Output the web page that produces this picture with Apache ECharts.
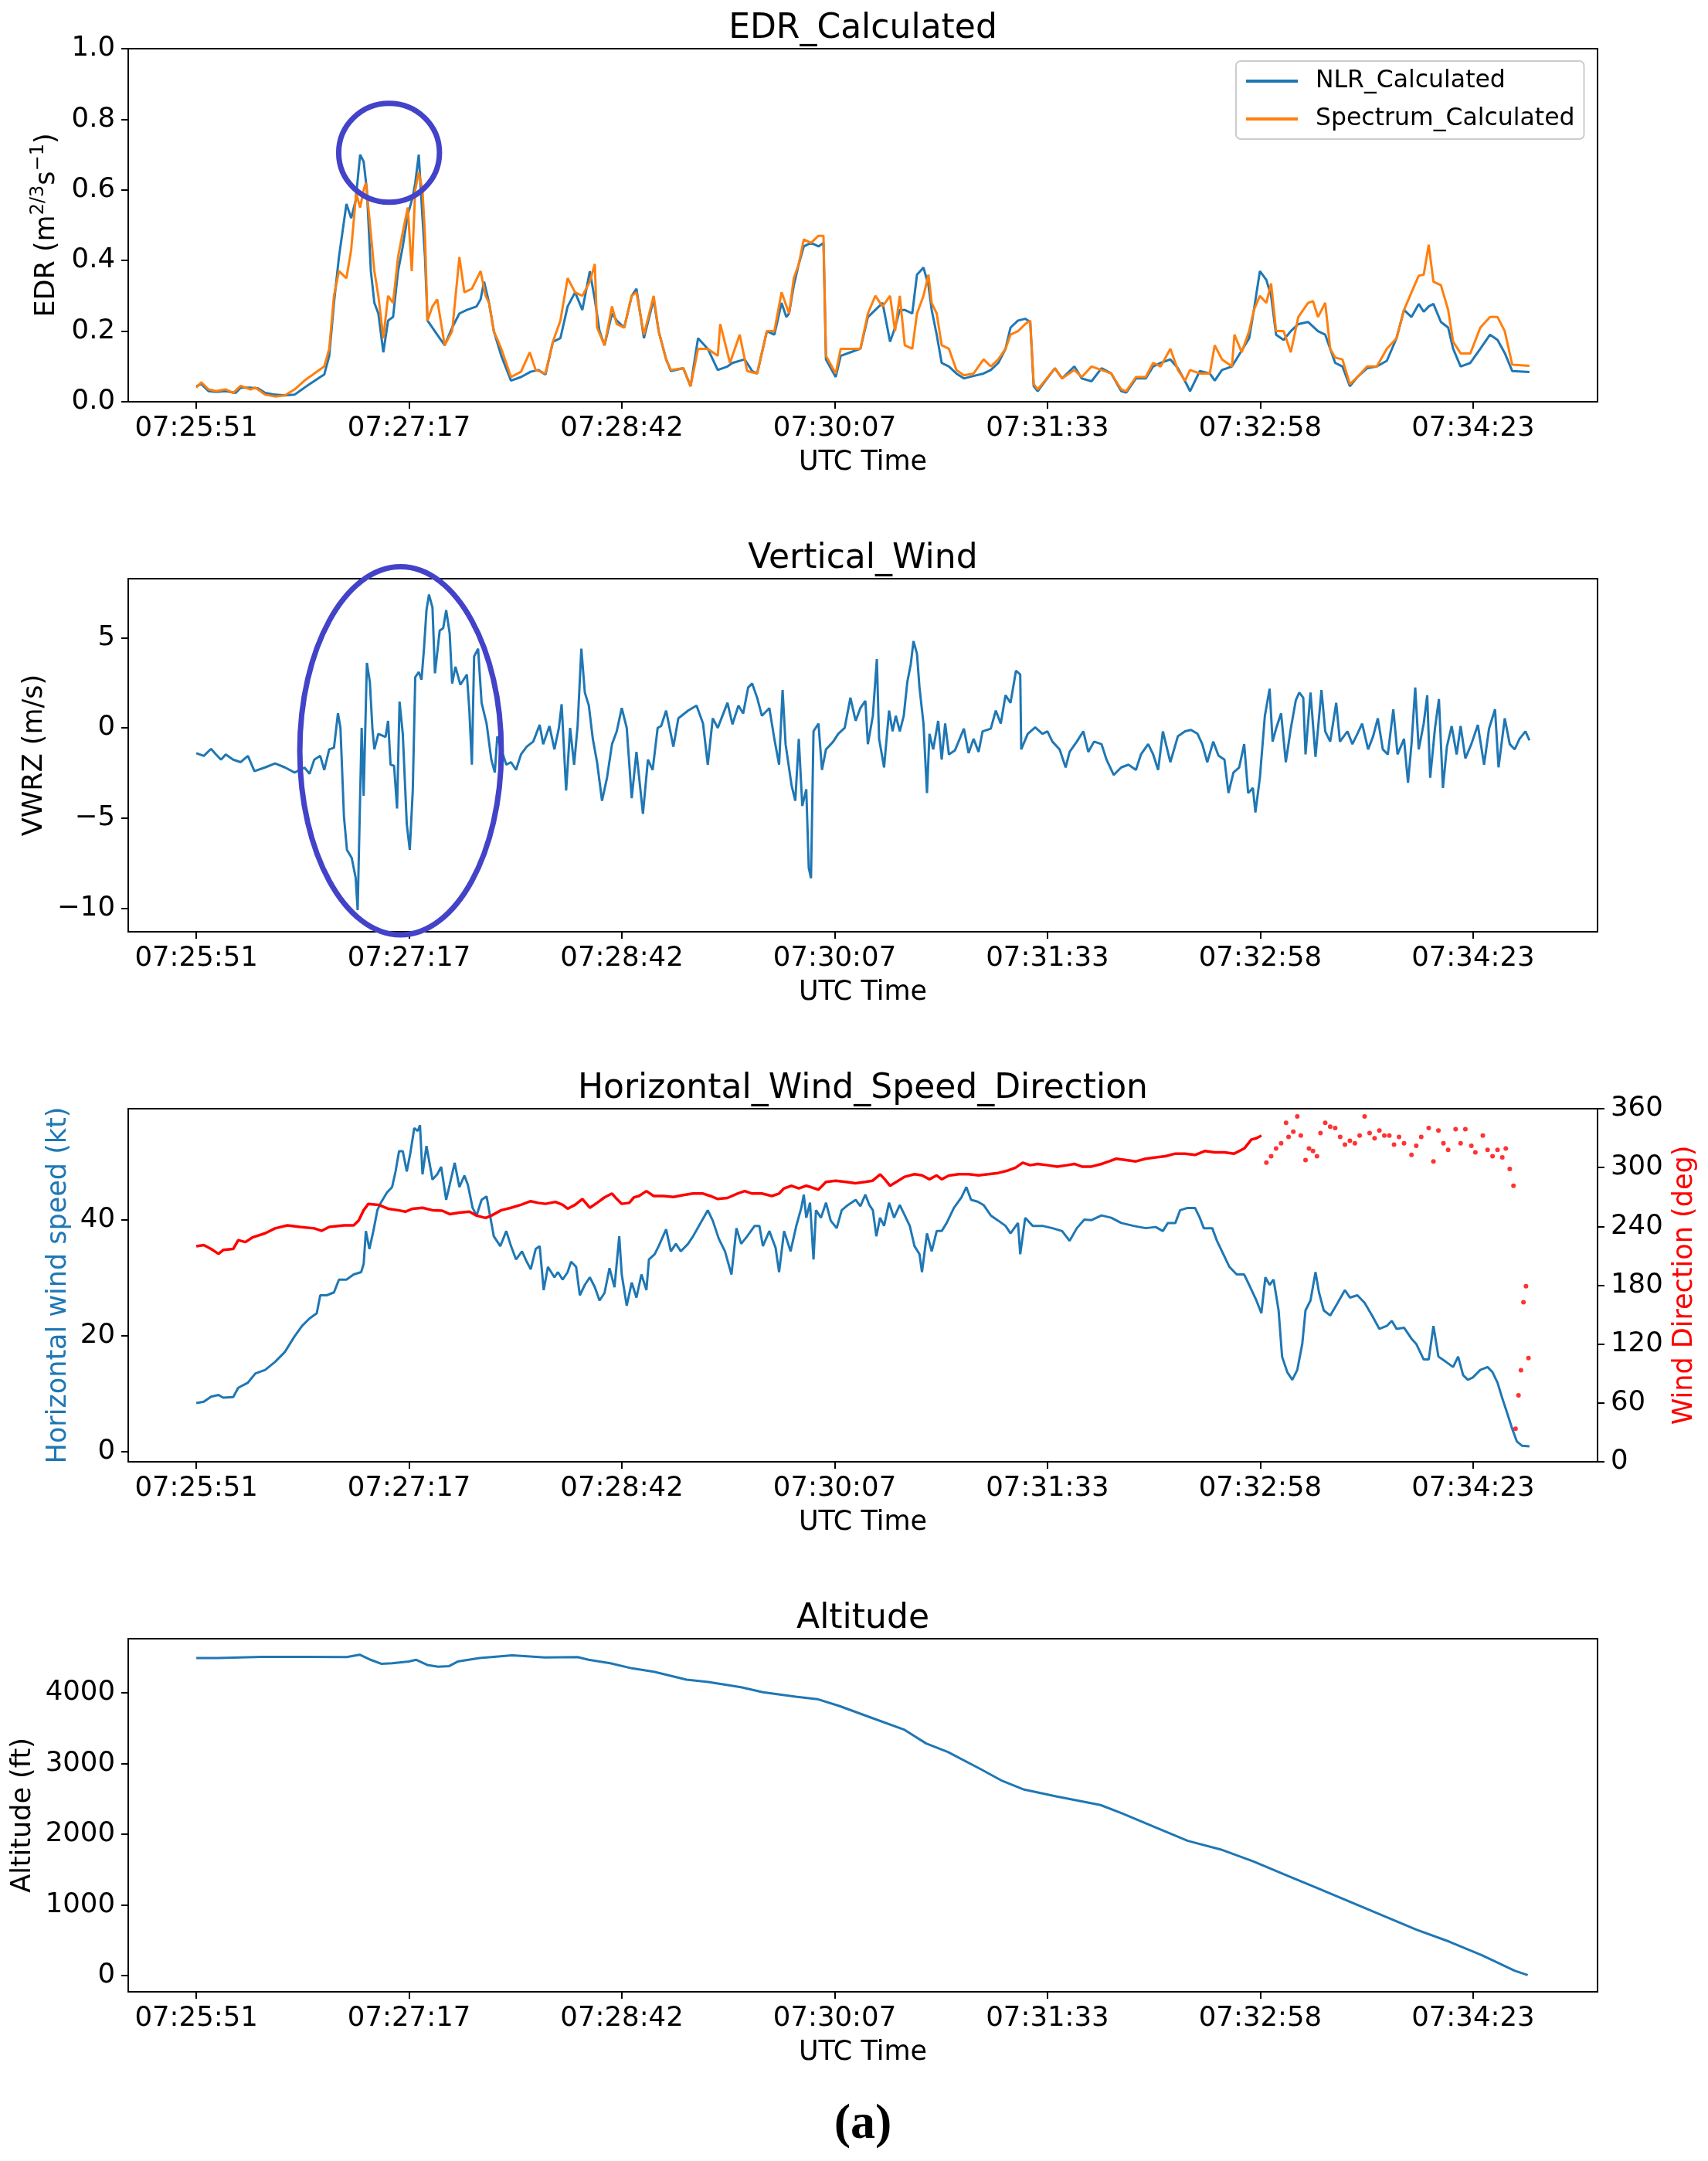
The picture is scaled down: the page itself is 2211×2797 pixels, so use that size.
<!DOCTYPE html>
<html>
<head>
<meta charset="utf-8">
<script src="https://cdn.jsdelivr.net/npm/echarts@6/dist/echarts.min.js"></script>
<style>
  html, body { margin: 0; padding: 0; background: #fff; }
  #main { width: 2211px; height: 2797px; }
</style>
</head>
<body>
<div id="main"></div>
<script>
// time axis: seconds after 07:25:51
var tickSeconds = [0, 85.33, 170.67, 256, 341.33, 426.67, 512];
var tickLabels = ['07:25:51', '07:27:17', '07:28:42', '07:30:07', '07:31:33', '07:32:58', '07:34:23'];

// EDR (m^2/3 s^-1), [seconds, value]
var nlrEdr = [
  [0,0.044],[2,0.05],[4.9,0.03],[7.9,0.028],[11.8,0.03],[15.8,0.025],[17.8,0.04],[21.7,0.04],[24.7,0.038],[27.6,0.025],
  [31.6,0.02],[35.5,0.018],[39.4,0.02],[41.4,0.03],[45.4,0.05],[49.7,0.07],[51.3,0.077],[53.3,0.13],[55.2,0.28],[57.2,0.41],
  [60.2,0.56],[62.1,0.52],[63.9,0.57],[65.7,0.70],[67.1,0.68],[68.4,0.6],[70,0.37],[71.4,0.28],[73,0.25],[75,0.14],
  [76.9,0.23],[78.9,0.24],[80.9,0.37],[82.8,0.44],[84.8,0.53],[86.8,0.58],[87.8,0.62],[89.2,0.70],[90.7,0.52],[91.7,0.41],
  [92.7,0.23],[96.6,0.19],[99.6,0.16],[102.6,0.21],[105.5,0.25],[108.5,0.26],[112.4,0.27],[114,0.29],[115.4,0.34],[117.4,0.28],
  [119.3,0.2],[122.3,0.13],[126.2,0.06],[130.2,0.07],[134.1,0.085],[137.1,0.09],[140,0.077],[143,0.17],[146,0.18],[148.9,0.27],
  [151.9,0.31],[154.8,0.26],[157.8,0.37],[159.8,0.29],[161.7,0.2],[163.7,0.16],[166.7,0.25],[168.6,0.23],[171.6,0.21],[174.6,0.30],
  [176.5,0.32],[179.5,0.18],[183.4,0.29],[185.4,0.2],[188.4,0.12],[190.3,0.087],[195.3,0.095],[198.2,0.044],[201.2,0.18],[205.1,0.15],
  [209.1,0.09],[213,0.1],[215,0.11],[219.9,0.12],[222.9,0.087],[224.9,0.08],[228.8,0.2],[231.8,0.19],[234.7,0.28],[236.6,0.24],
  [237.7,0.25],[239.6,0.33],[241.6,0.39],[243.6,0.44],[246.5,0.45],[249.5,0.44],[251.5,0.45],[252.5,0.12],[256.4,0.07],[258.4,0.13],
  [262.3,0.14],[266.3,0.15],[269.3,0.24],[272.3,0.26],[275.2,0.28],[278.2,0.17],[280.2,0.21],[282.1,0.26],[284.1,0.26],[287.1,0.25],
  [289,0.36],[291.6,0.38],[293.6,0.33],[294.9,0.26],[296.9,0.19],[298.9,0.11],[301.8,0.1],[304.8,0.08],[307.8,0.066],[311.7,0.073],
  [315.7,0.08],[318.6,0.09],[321.6,0.11],[324.5,0.15],[326.5,0.21],[329.5,0.23],[332.4,0.235],[334.4,0.226],[335.8,0.044],[337.4,0.03],
  [340.3,0.058],[344.3,0.095],[347.2,0.066],[352.1,0.1],[355.1,0.066],[359,0.058],[363,0.095],[366.9,0.08],[370.9,0.03],[372.9,0.026],
  [376.8,0.066],[380.7,0.066],[383.7,0.1],[386.7,0.11],[390.6,0.12],[393.6,0.095],[396.5,0.058],[398.5,0.03],[402.4,0.087],[406.4,0.08],
  [408.4,0.06],[411.3,0.09],[415.3,0.1],[419.2,0.145],[422.2,0.18],[424.1,0.26],[426.5,0.37],[429.1,0.345],[431,0.3],[433,0.19],
  [436,0.175],[438.9,0.2],[441.9,0.22],[445.8,0.226],[449.8,0.2],[452.7,0.19],[454.7,0.15],[456.7,0.11],[459.6,0.1],[462.6,0.044],
  [465.6,0.07],[469.5,0.095],[473.4,0.1],[477.4,0.116],[481.3,0.18],[484.3,0.26],[487.3,0.24],[490.2,0.277],[492.2,0.255],[494.2,0.27],
  [496.1,0.277],[499.1,0.226],[502,0.21],[504,0.15],[507,0.1],[510.9,0.11],[514.9,0.15],[518.8,0.19],[521.8,0.175],[524.7,0.138],
  [527.7,0.087],[534.6,0.084]
];
var spectrumEdr = [
  [0,0.04],[2,0.055],[4.9,0.035],[7.9,0.03],[11.8,0.035],[14.8,0.025],[17.8,0.045],[21.7,0.035],[23.7,0.04],[27.6,0.02],
  [31.6,0.015],[35.5,0.018],[39.4,0.035],[43.4,0.06],[47.3,0.08],[51.3,0.1],[53.3,0.15],[55.2,0.3],[57.2,0.37],[60.2,0.35],
  [62.1,0.43],[64.1,0.59],[65.7,0.55],[67.1,0.6],[68,0.62],[69.4,0.52],[71.4,0.37],[73,0.3],[75,0.18],[76.9,0.3],
  [78.9,0.28],[80.9,0.41],[82.8,0.48],[84.8,0.55],[86.4,0.37],[87.8,0.6],[89.2,0.65],[90.7,0.6],[91.7,0.47],[92.7,0.23],
  [94.7,0.27],[96.6,0.29],[99.6,0.16],[102.6,0.2],[105.5,0.41],[107.5,0.31],[110.5,0.32],[114,0.37],[116,0.3],[117.4,0.28],
  [119.3,0.2],[122.3,0.15],[126.2,0.07],[130.2,0.085],[133.7,0.14],[136.1,0.09],[140,0.08],[143,0.17],[146,0.23],[148.9,0.35],
  [151.9,0.31],[154.8,0.3],[157.8,0.34],[159.8,0.39],[160.7,0.21],[163.7,0.16],[166.7,0.27],[168.6,0.22],[171.6,0.21],[174.6,0.3],
  [176.5,0.31],[179.5,0.19],[183.4,0.3],[185.4,0.2],[188.4,0.12],[190.3,0.09],[195.3,0.095],[198.2,0.044],[201.2,0.15],[205.1,0.15],
  [209.1,0.13],[210.1,0.22],[214,0.11],[217.9,0.19],[220.9,0.087],[224.9,0.08],[228.8,0.2],[231.8,0.2],[234.7,0.31],[237.7,0.25],
  [239.6,0.35],[241.6,0.39],[243.6,0.46],[246.5,0.45],[249.5,0.47],[251.5,0.47],[252.5,0.13],[256.4,0.08],[258.4,0.15],[262.3,0.15],
  [266.3,0.15],[269.3,0.25],[272.3,0.30],[275.2,0.27],[278.2,0.30],[280.2,0.2],[282.1,0.3],[284.1,0.16],[287.1,0.15],[289,0.25],
  [291.6,0.30],[293.6,0.36],[294.9,0.28],[296.9,0.25],[298.9,0.16],[301.8,0.15],[304.8,0.09],[307.8,0.075],[311.7,0.08],[315.7,0.12],
  [318.6,0.1],[321.6,0.12],[324.5,0.15],[326.5,0.19],[329.5,0.2],[332.4,0.22],[334.4,0.23],[335.8,0.05],[337.4,0.035],[340.3,0.06],
  [344.3,0.095],[347.2,0.066],[352.1,0.09],[355.1,0.07],[359,0.1],[363,0.09],[366.9,0.08],[370.9,0.035],[372.9,0.03],[376.8,0.07],
  [380.7,0.07],[383.7,0.11],[386.7,0.1],[390.6,0.15],[393.6,0.09],[396.5,0.06],[398.5,0.09],[402.4,0.08],[406.4,0.08],[408.4,0.16],
  [411.3,0.12],[415.3,0.1],[416.3,0.19],[419.2,0.14],[422.2,0.2],[424.1,0.26],[426.5,0.30],[429.1,0.28],[431,0.335],[433,0.2],
  [436,0.2],[438.9,0.14],[441.9,0.24],[445.8,0.28],[447.8,0.285],[449.8,0.24],[452.7,0.28],[454.7,0.15],[456.7,0.125],[459.6,0.12],
  [462.6,0.05],[465.6,0.07],[469.5,0.1],[473.4,0.1],[477.4,0.15],[481.3,0.18],[484.3,0.26],[487.3,0.31],[490.2,0.357],[492.2,0.36],
  [494.2,0.445],[496.1,0.34],[499.1,0.33],[502,0.26],[504,0.17],[507,0.137],[510.9,0.137],[514.9,0.21],[518.8,0.24],[521.8,0.24],
  [524.7,0.2],[527.7,0.105],[534.6,0.102]
];

// vertical wind VWRZ (m/s)
var verticalWind = [
  [0,-1.4],[3,-1.55],[5.9,-1.16],[7.9,-1.47],[9.9,-1.76],[11.8,-1.47],[14.8,-1.76],[17.8,-1.9],[20.7,-1.55],[23.3,-2.4],
  [27.6,-2.19],[31.6,-1.97],[35.5,-2.19],[39.4,-2.47],[43.4,-2.2],[45.4,-2.54],[47.3,-1.76],[49.7,-1.55],[51.3,-2.33],[53.3,-1.19],
  [55.2,-1.1],[56.8,0.81],[57.8,0],[59.2,-4.9],[60.4,-6.76],[62.3,-7.2],[63.9,-8.3],[64.7,-10.1],[65.5,-5.04],[66.3,0],
  [67.1,-3.76],[68.4,3.6],[69.6,2.53],[70.6,0],[71.4,-1.19],[73,-0.33],[75.9,-0.5],[76.9,0.39],[77.9,-2.04],[79.3,-2.1],
  [80.5,-4.47],[81.5,1.46],[82.8,-0.33],[84.4,-5.33],[85.6,-6.76],[86.8,-3.47],[87.8,2.81],[89.2,3.1],[90.3,2.67],[91.3,4.39],
  [92.3,6.53],[93.3,7.39],[94.7,6.67],[95.7,3.03],[97.6,5.39],[99,5.53],[100.2,6.53],[101.6,5.24],[102.6,2.46],[103.9,3.39],
  [105.9,2.39],[108.5,2.96],[109.5,0.96],[110.5,-2.04],[111.4,3.96],[113,4.39],[114.4,1.39],[116.4,0.24],[118.3,-1.76],[119.7,-2.47],
  [120.7,-0.47],[122.3,-1.19],[124.3,-2.04],[126.2,-1.9],[128.2,-2.33],[130.2,-1.47],[132.5,-1.04],[135.1,-0.76],[137.7,0.17],[139.1,-0.9],
  [141.6,0.1],[143.6,-1.19],[145.4,0],[146.5,1.31],[148.3,-3.47],[149.9,0],[151.5,-2.04],[152.9,0.1],[154.4,4.39],[155.8,1.96],
  [157.4,1.24],[159,-0.61],[160.7,-1.9],[162.7,-4.04],[164.7,-2.76],[166.7,-0.9],[168.6,-0.19],[170.6,1.1],[172.6,0],[174.6,-3.9],
  [176.5,-1.33],[179.1,-4.76],[181.1,-1.76],[183,-2.33],[185,0],[186.4,0.1],[188.4,0.96],[191.3,-1.04],[193.3,0.53],[197.2,0.96],
  [200.6,1.24],[203.2,0.24],[205.1,-2.04],[207.1,0.53],[209.1,0],[213,1.39],[215,0.2],[217.4,1.24],[219.3,0.8],[221.3,2.24],
  [222.9,2.46],[224.9,1.67],[226.8,0.67],[229.8,1.1],[231.8,-0.61],[233.7,-2.04],[235.1,2.1],[236.3,-0.9],[238.7,-3.19],[240.2,-4.04],
  [241.6,-0.61],[243,-4.33],[244.6,-3.4],[245.6,-7.76],[246.5,-8.33],[247.5,-0.19],[249.5,0.24],[250.9,-2.33],[252.5,-1.19],[255.4,-0.76],
  [257.4,-0.33],[260,0],[262.3,1.67],[264.4,0.39],[266.3,1.1],[268.3,1.5],[269.3,-0.9],[271.3,0.67],[272.9,3.81],[273.8,-0.61],
  [275.8,-2.19],[277.8,0.96],[279.2,-0.19],[280.5,0.67],[282.1,-0.19],[283.7,0.67],[285.1,2.53],[286.5,3.53],[287.6,4.81],[289,4.1],
  [290,2.24],[291.6,0.24],[293,-3.61],[294,-0.33],[295.5,-1.19],[297.5,0.39],[298.9,-1.76],[300.3,0.24],[301.8,-1.47],[304.2,-1.25],
  [307.8,-0.04],[309.7,-1.4],[311.7,-0.61],[313.7,-1.33],[315.3,-0.19],[318.6,-0.04],[320.6,0.96],[322.6,0.24],[324.5,1.81],[326.5,1.39],
  [328.7,3.17],[330.4,2.96],[330.8,-1.19],[333.4,-0.33],[336.4,0.03],[339.3,-0.33],[341.3,-0.19],[343.3,-0.76],[346.2,-1.19],[348.6,-2.19],
  [350.2,-1.33],[353.1,-0.76],[355.7,-0.19],[357.7,-1.33],[360,-0.76],[363,-0.9],[365,-1.76],[367.9,-2.61],[370.9,-2.19],[373.8,-2.04],
  [376.8,-2.33],[378.8,-1.47],[381.7,-0.9],[383.7,-1.47],[385.7,-2.33],[387.6,-0.19],[390.6,-1.9],[393.6,-0.47],[396.5,-0.19],[398.9,-0.11],
  [401.5,-0.33],[403.4,-0.9],[405.4,-1.9],[407.8,-0.76],[409.9,-1.54],[412.3,-1.76],[413.9,-3.61],[415.9,-2.47],[418.2,-2.19],[420.2,-0.9],
  [421.8,-3.61],[423.7,-3.33],[424.7,-4.69],[426.5,-2.76],[428.5,0.67],[430.4,2.17],[431.6,-0.76],[433,-0.04],[435,0.81],[436.9,-1.9],
  [438.9,-0.04],[440.9,1.53],[442.3,1.96],[443.9,1.67],[444.8,-1.47],[446.8,1.96],[448.8,-1.61],[451.2,2.1],[452.7,-0.19],[454.7,-0.76],
  [457.1,1.39],[458.6,-0.76],[461.6,-0.19],[463.6,-0.9],[465.6,-0.33],[467.5,0.24],[469.9,-1.19],[471.9,-0.47],[473.8,0.53],[475.8,-1.19],
  [477.8,-1.47],[480,1.03],[481.7,-1.47],[484.3,-0.61],[485.9,-3.04],[487.3,-0.9],[488.8,2.24],[490.2,-1.19],[492.2,0.24],[493.6,1.81],
  [494.8,-2.76],[496.7,-0.04],[498.3,1.6],[499.9,-3.33],[501.5,-1.04],[503.4,0.1],[505.4,-1.47],[507,0.1],[508.9,-1.69],[511.3,-0.9],
  [513.9,0.17],[516.4,-2.04],[518.4,-0.04],[520.8,1.03],[522.2,-2.19],[524.7,0.53],[526.7,-0.9],[528.7,-1.19],[530.6,-0.61],[533,-0.19],
  [534.6,-0.69]
];

// horizontal wind speed (kt)
var windSpeed = [
  [0,8.36],[3,8.6],[5.9,9.47],[8.9,9.78],[10.8,9.3],[14.8,9.4],[16.8,11],[20.7,11.9],[23.7,13.5],[27.6,14.1],
  [31.6,15.5],[35.5,17.2],[39.4,19.9],[42.4,21.7],[45.4,23],[48.3,23.9],[49.7,27],[52.3,27],[55.2,27.5],[57.2,29.7],
  [60.2,29.7],[63.1,30.6],[66.1,31],[67.1,32.4],[68,38.1],[69.4,35],[71,38.1],[72.6,41.7],[74,43],[76.5,44.8],
  [78.5,45.7],[79.9,48.4],[81.3,51.9],[82.8,51.9],[84.4,48.4],[85.8,51.5],[87.4,55.9],[88.8,55.4],[89.7,56.4],[90.7,47.9],
  [92.3,52.8],[94.7,47],[96.6,47.9],[98.2,49.2],[100.2,43.5],[101.6,46.1],[103.6,49.9],[105.5,45.7],[107.5,47.7],[108.9,46.1],
  [110.8,42.1],[112.4,40.8],[114.4,43.5],[116.4,44.1],[117.4,41.7],[119.3,37.2],[121.9,35.5],[124.3,38.1],[126.2,35.5],[128.2,33.2],
  [130.6,34.6],[132.5,32.8],[134.1,31.5],[136.1,35],[137.7,35.5],[139.3,27.9],[141,31.9],[143.6,30.1],[145,31],[146.9,29.7],
  [148.9,31],[150.3,32.8],[152.3,31.9],[153.8,27],[155.8,28.8],[157.8,30.1],[159.8,28.4],[161.7,26.1],[163.7,27.4],[165.7,31.7],
  [167.7,28.4],[169.6,37.2],[170.6,30.6],[172.6,25.2],[174.6,29.2],[176.5,26.6],[178.5,30.6],[180.5,27.9],[181.5,33.2],[183.8,34.1],
  [185.4,35.5],[188.4,38.4],[190.3,34.6],[192.3,35.9],[194.3,34.6],[197.2,35.9],[199.2,37.2],[202.2,39.5],[205.1,41.7],[207.1,39.9],
  [209.5,36.8],[212,34.6],[214.6,30.6],[216.6,38.6],[218.5,35.9],[220.9,37.2],[223.9,39],[225.8,39],[227.2,35.5],[229.8,38.1],
  [232.3,35.2],[233.7,31],[235.7,38.1],[238.3,34.6],[240.6,39],[242.6,42.1],[243.6,44.4],[244.6,40.4],[246.1,43],[247.5,33.2],
  [248.5,41.7],[250.5,40.4],[252.5,43],[254.4,39.9],[256.8,38.6],[258.8,41.7],[261.3,42.6],[264.4,43.5],[266.3,42.4],[268.3,44.4],
  [269.9,42.6],[271.3,41.7],[272.7,37.2],[274.2,40.4],[275.8,39],[277.8,43],[279.8,40.4],[282.1,42.6],[284.1,40.8],[286.1,39],
  [288,35.5],[290,34.1],[291,31],[293,37.7],[294.9,34.6],[296.9,38.1],[298.9,38.1],[300.9,39.5],[303.8,42.1],[306.8,43.9],
  [308.8,45.7],[310.7,43.5],[313.3,43.2],[315.7,42.6],[318.6,40.8],[321.6,39.9],[324.5,39],[326.5,37.7],[329.5,39.5],[330.4,34.1],
  [332.4,40.4],[335.4,39],[339.3,39],[343.3,38.6],[347.2,38.1],[350.2,36.4],[353.1,38.6],[356.1,40.1],[359,40],[363,40.8],
  [366.9,40.4],[370.9,39.5],[375.8,39],[380.7,38.6],[384.7,38.8],[387.6,38.1],[389.6,39.5],[392.6,39.5],[394.5,41.7],[397.5,42.1],
  [400.5,42.1],[402.4,40.4],[404,38.6],[407.4,38.6],[409.3,36.4],[411.3,34.6],[414.3,31.9],[417.2,30.6],[420.2,30.6],[422.2,28.8],
  [425.1,26.1],[427.1,23.9],[428.7,30.1],[430.4,28.8],[432,29.7],[434,24.4],[435.4,16.4],[437.5,13.7],[439.5,12.4],[441.5,14.1],
  [443.5,18.6],[444.8,24.4],[446.8,26.1],[448.8,31],[450.2,27.5],[452.1,24.4],[454.7,23.5],[457.7,25.7],[460.6,27.9],[462.6,26.6],
  [465.6,27],[468.5,25.7],[471.5,23.5],[474.4,21.2],[477.4,21.7],[479.4,22.6],[481.3,21.2],[484.3,21.4],[487.3,19.5],[489.2,18.6],
  [492.2,15.9],[494.2,15.9],[496.1,21.7],[498.1,16.4],[501.1,15.5],[504,14.6],[506,16.4],[508,13.2],[509.9,12.4],[511.9,12.8],
  [514.9,14.1],[517.8,14.6],[519.8,13.7],[521.8,11.9],[523.7,9.2],[525.7,6.6],[527.7,3.9],[529.6,1.7],[531.6,1],[534.6,0.9]
];

// wind direction (deg): continuous part, then scattered samples
var windDirTrack = [
  [0,219.8],[3,221],[5.9,217],[8.9,212],[10.8,216],[14.8,217],[16.8,226],[19.7,224],[22.7,229],[27.6,233],
  [31.6,238],[36.5,241],[41.4,239.5],[47.3,238],[50.3,235.5],[53.3,239.5],[59.2,241],[63.1,241],[65.1,246],[67.1,256.5],
  [69,263],[73,262],[76.9,258],[80.9,256.5],[83.8,255],[86.8,258],[90.7,259],[94.7,256.5],[98.6,256],[101.6,252.5],
  [105.5,254],[109.5,255],[112.4,251],[116,248.6],[118.3,251],[122.3,256.5],[126.2,259],[130.2,262],[134.1,265.7],[137.1,264],
  [140,263],[144,265],[146.9,262],[148.9,258],[151.9,262],[154.8,268],[157.8,259],[160.7,264],[163.7,269.6],[166.7,273.5],
  [168.6,268],[170.6,263],[173.6,264],[175.5,269.6],[177.5,271],[180.5,276],[183.4,271],[187.4,271],[191.3,270],[195.3,272],
  [199.2,273.5],[203.2,273.5],[206.1,271],[209.1,268],[213,269],[217,273.5],[219.9,276],[222.9,273.5],[226.8,273.5],[230.8,271],
  [233.7,273.5],[235.7,278.8],[238.7,281.4],[241.6,278.8],[244.6,281.4],[246.5,280],[249.5,277.5],[252.5,285.3],[256.4,286.6],[260.4,285.3],
  [264.3,284],[268.2,285.3],[271.2,286.6],[274.2,293],[276.1,288],[278.2,281.4],[281.1,286],[284.1,290.6],[288,293.2],[291,292],
  [294,288],[296.9,292],[298.9,288],[301.8,291.9],[305.8,293.2],[309.7,293.2],[313.7,292],[317.6,293.2],[321.6,294.5],[325.5,297],
  [328.5,299.8],[331.4,305],[334.4,302.4],[337.4,303.7],[341.3,302.4],[345.2,301],[349.2,302.4],[352.1,303.7],[355.1,301],[359,301],
  [363,303.7],[366,306.3],[368.9,309],[372.9,307.6],[376.8,306.3],[380.7,309],[384.7,310.3],[388.6,311.6],[392.6,314.2],[396.5,314.2],
  [400.5,312.9],[404.4,316.8],[408.4,315.5],[412.3,315.5],[416.2,314.2],[420.2,319.4],[423.1,328.6],[425.1,329.9],[427.1,332.6]
];
var windDirScatter = [
  [429.1,305],[431,311.6],[433,319.4],[435,324.7],[437,345.7],[438,331.2],[439.9,336.5],[441.5,352.2],[442.9,332.6],[444.8,307.6],
  [446.2,319.4],[447.8,316.8],[449.4,311.6],[450.8,335.2],[452.7,345.7],[454.7,341.7],[456.7,340.4],[458.7,331.2],[460.6,323.4],[462.6,327.3],
  [464.6,324.7],[466.5,332.6],[468.5,352.2],[470.5,335.2],[472.5,329.9],[474.4,337.8],[476.4,332.6],[478.4,332.6],[480.3,323.4],[482.3,331.2],
  [484.3,324.7],[487.3,312.9],[489.2,322.1],[491.2,331.2],[494.2,340.4],[496.1,306.3],[498.1,337.8],[500.1,324.7],[502,318.1],[505,339.1],
  [507,324.7],[508.9,339.1],[511.3,322.1],[512.9,315.5],[515.9,332.6],[517.8,318.1],[519.8,311.6],[521.8,318.1],[523.7,310.3],[525.1,319.4],
  [526.7,298.5],[528.2,281.4],[529,33.6],[530.2,67.7],[531.2,93.4],[532.2,162.6],[533.2,179.1],[534.2,105.7]
];

// altitude (ft)
var altitude = [
  [0,4493],[8.7,4493],[26.2,4510],[43.7,4510],[60.3,4507],[65.5,4541],[69.9,4469],[74.3,4411],[78.6,4420],[85.2,4444],
  [88.2,4469],[92.6,4396],[97,4372],[101.4,4380],[104.8,4444],[113.6,4493],[126.7,4531],[139.8,4502],[152.9,4507],[157.3,4469],
  [166,4420],[174.7,4348],[183.5,4300],[196.6,4188],[205.3,4155],[218.4,4082],[227.2,4010],[240.3,3947],[249,3913],[257.8,3816],
  [270.9,3647],[284,3478],[292.7,3285],[301.4,3164],[314.5,2923],[323.3,2754],[332,2633],[345.1,2536],[362.6,2415],[371.3,2295],
  [384.4,2101],[397.6,1908],[410.7,1787],[423.8,1618],[436.9,1425],[450,1232],[463.1,1039],[476.2,845],[489.3,652],[502.4,483],
  [515.5,290],[528.6,72],[533.9,10]
];

var FONT = 'DejaVu Sans';
var BLUE = '#1f77b4', ORANGE = '#ff7f0e', RED = '#ff0000', MARK = '#4343c9';
var panelTop = [63, 749, 1435, 2121];
var panelH = 457, plotLeft = 166, plotRight = 2068;

function timeLabel(val) {
  for (var i = 0; i < tickSeconds.length; i++) {
    if (Math.abs(tickSeconds[i] - val) < 0.01) return tickLabels[i];
  }
  return '';
}
function plainFmt(v) { return v < 0 ? '\u2212' + Math.abs(v) : String(v); }

function timeAxis(i) {
  return {
    type: 'value', gridIndex: i, min: -27.3, max: 561.9,
    name: 'UTC Time', nameLocation: 'middle', nameGap: 61,
    nameTextStyle: { fontFamily: FONT, fontSize: 35, color: '#000' },
    axisLine: { show: false, onZero: false },
    axisTick: { show: true, length: 9, customValues: tickSeconds, lineStyle: { color: '#000', width: 2 } },
    axisLabel: { customValues: tickSeconds, formatter: timeLabel, fontFamily: FONT, fontSize: 35.5, color: '#000', margin: 17 },
    splitLine: { show: false }
  };
}
function valueAxis(i, opt) {
  var ax = {
    type: 'value', gridIndex: i, min: opt.min, max: opt.max,
    name: opt.name, nameLocation: 'middle', nameRotate: 90, nameGap: opt.gap,
    nameTextStyle: { fontFamily: FONT, fontSize: 35, color: opt.nameColor || '#000', rich: opt.rich },
    position: opt.position || 'left',
    axisLine: { show: false, onZero: false },
    axisTick: { show: true, length: 9, lineStyle: { color: '#000', width: 2 } },
    axisLabel: { fontFamily: FONT, fontSize: 35.5, color: '#000', margin: 17, formatter: opt.fmt || plainFmt },
    splitLine: { show: false }
  };
  if (opt.ticks) {
    ax.axisTick.customValues = opt.ticks;
    ax.axisLabel.customValues = opt.ticks;
  } else {
    ax.interval = opt.interval;
  }
  return ax;
}

var grids = [];
for (var g = 0; g < 4; g++) {
  grids.push({ left: plotLeft, width: plotRight - plotLeft, top: panelTop[g], height: panelH,
    show: true, borderColor: '#000', borderWidth: 2, backgroundColor: 'transparent' });
}

var titles = ['EDR_Calculated', 'Vertical_Wind', 'Horizontal_Wind_Speed_Direction', 'Altitude'];
var graphics = titles.map(function (t, i) {
  return { type: 'text', x: (plotLeft + plotRight) / 2, y: panelTop[i] - 25, z: 10,
    style: { text: t, font: '44px "DejaVu Sans"', fill: '#000', textAlign: 'center', textVerticalAlign: 'middle' } };
});
graphics.push({ type: 'text', x: (plotLeft + plotRight) / 2, y: 2750, z: 10,
  style: { text: '(a)', font: 'bold 64px "Liberation Serif"', fill: '#000', textAlign: 'center', textVerticalAlign: 'middle' } });

function lineSeries(name, data, x, y, color, width) {
  return { name: name, type: 'line', xAxisIndex: x, yAxisIndex: y, data: data,
    symbol: 'none', showSymbol: false, animation: false,
    lineStyle: { color: color, width: width || 3 }, itemStyle: { color: color } };
}

var myChart = echarts.init(document.getElementById('main'));

var option = {
  backgroundColor: '#fff',
  animation: false,
  grid: grids,
  legend: {
    data: ['NLR_Calculated', 'Spectrum_Calculated'],
    orient: 'vertical', left: 1600, top: 79,
    icon: 'rect', itemWidth: 67, itemHeight: 4, itemGap: 13,
    padding: [8, 12, 8, 13],
    backgroundColor: 'rgba(255,255,255,0.8)', borderColor: '#cccccc', borderWidth: 2, borderRadius: 6,
    textStyle: { fontFamily: FONT, fontSize: 31.5, color: '#000', lineHeight: 36, padding: [0, 0, 0, 18] },
    selectedMode: false
  },
  xAxis: [timeAxis(0), timeAxis(1), timeAxis(2), timeAxis(3)],
  yAxis: [
    valueAxis(0, { min: 0, max: 1, interval: 0.2, gap: 82,
      name: '{b|EDR (m}{sup|2/3}{b|s}{sup|\u22121}{b|)}',
      rich: { b: { fontFamily: FONT, fontSize: 35, lineHeight: 46 }, sup: { fontFamily: FONT, fontSize: 24, lineHeight: 24, verticalAlign: 'top' } },
      fmt: function (v) { return v.toFixed(1); } }),
    valueAxis(1, { min: -11.3, max: 8.27, ticks: [-10, -5, 0, 5], gap: 104, name: 'VWRZ (m/s)' }),
    valueAxis(2, { min: -1.78, max: 59.25, ticks: [0, 20, 40], gap: 72, name: 'Horizontal wind speed (kt)', nameColor: BLUE }),
    valueAxis(2, { min: 0, max: 360, interval: 60, gap: 87, name: 'Wind Direction (deg)', nameColor: RED, position: 'right' }),
    valueAxis(3, { min: -227, max: 4767, ticks: [0, 1000, 2000, 3000, 4000], gap: 116, name: 'Altitude (ft)' })
  ],
  series: [
    lineSeries('NLR_Calculated', nlrEdr, 0, 0, BLUE),
    lineSeries('Spectrum_Calculated', spectrumEdr, 0, 0, ORANGE),
    lineSeries('VWRZ', verticalWind, 1, 1, BLUE),
    lineSeries('Horizontal wind speed', windSpeed, 2, 2, BLUE),
    lineSeries('Wind Direction', windDirTrack, 2, 3, RED, 3.5),
    { name: 'Wind Direction dots', type: 'scatter', xAxisIndex: 2, yAxisIndex: 3, data: windDirScatter,
      symbol: 'circle', symbolSize: 6, itemStyle: { color: RED }, animation: false },
    lineSeries('Altitude', altitude, 3, 4, BLUE)
  ],
  graphic: graphics
};

myChart.setOption(option);

// hand-drawn highlight ellipses, placed in data units
var highlights = [
  { grid: 0, t: 77.3, v: 0.705, rt: 20.2, rv: 0.14 },
  { grid: 1, t: 81.9, v: -1.27, rt: 40.4, rv: 10.2 }
];
var extra = highlights.map(function (h) {
  var c = myChart.convertToPixel({ gridIndex: h.grid }, [h.t, h.v]);
  var ex = myChart.convertToPixel({ gridIndex: h.grid }, [h.t + h.rt, h.v]);
  var ey = myChart.convertToPixel({ gridIndex: h.grid }, [h.t, h.v + h.rv]);
  return { type: 'ellipse', z: 20,
    shape: { cx: c[0], cy: c[1], rx: Math.abs(ex[0] - c[0]), ry: Math.abs(c[1] - ey[1]) },
    style: { fill: null, stroke: MARK, lineWidth: 7 } };
});
myChart.setOption({ graphic: graphics.concat(extra) });
</script>
</body>
</html>
